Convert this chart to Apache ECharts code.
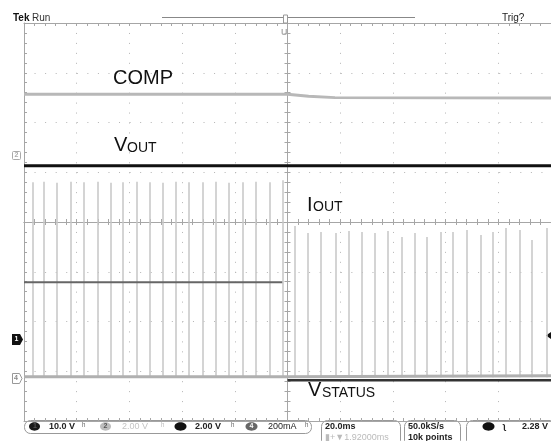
<!DOCTYPE html>
<html><head><meta charset="utf-8">
<script src="https://cdn.jsdelivr.net/npm/echarts@6/dist/echarts.min.js"></script>
<style>html,body{margin:0;padding:0;background:#fff}#c{width:551px;height:441px}</style>
</head><body><div id="c"></div>
<script>
// Horizontal unit: screen divisions (20.0 ms/div), 0 = trigger (centre).
// Vertical unit: screen divisions, 0 = centre graticule line.
const pulseLeftT   = [-4.83,-4.62,-4.38,-4.11,-3.86,-3.60,-3.35,-3.13,-2.86,-2.61,-2.37,-2.12,-1.88,-1.61,-1.36,-1.12,-0.85,-0.61,-0.34,-0.09];
const pulseLeftTop = [0.80,0.81,0.79,0.81,0.80,0.81,0.79,0.80,0.81,0.80,0.79,0.81,0.80,0.80,0.81,0.79,0.80,0.81,0.80,0.84];
const pulseRightT   = [0.13,0.38,0.64,0.91,1.16,1.40,1.65,1.91,2.16,2.41,2.65,2.90,3.14,3.41,3.66,3.90,4.15,4.41,4.64,4.91];
const pulseRightTop = [-0.08,-0.22,-0.20,-0.22,-0.18,-0.20,-0.22,-0.18,-0.30,-0.22,-0.30,-0.20,-0.20,-0.16,-0.26,-0.20,-0.12,-0.16,-0.36,-0.12];
const pulseBottom = -3.12;

const compT = [-5, 0, 0.4, 0.9, 5];
const compV = [2.57, 2.57, 2.53, 2.50, 2.49];
const voutT = [-5, 5];
const voutV = [1.13, 1.13];
const ioutT = [-5, -0.10];
const ioutV = [-1.21, -1.21];
const vstatGrayT = [-5, 0, 5];
const vstatGrayV = [-3.11, -3.11, -3.09];
const vstatDarkT = [0, 5];
const vstatDarkV = [-3.18, -3.18];

const xTicks = [-5,-4,-3,-2,-1,0,1,2,3,4,5];
const yTicks = [-4,-3,-2,-1,0,1,2,3,4];

function pairs(t, v){ return t.map((x,i)=>[x, v[i]]); }
const pulseData = pulseLeftT.map((t,i)=>({coords:[[t,pulseBottom],[t,pulseLeftTop[i]]]}))
  .concat(pulseRightT.map((t,i)=>({coords:[[t,pulseBottom],[t,pulseRightTop[i]]]})));

const GRID = '#a6a6a6';
function xAx(extra){
  return Object.assign({type:'value', min:xTicks[0], max:xTicks[xTicks.length-1], interval:1,
    axisLabel:{show:false}, splitLine:{show:false}}, extra);
}
function yAx(extra){
  return Object.assign({type:'value', min:yTicks[0], max:yTicks[yTicks.length-1], interval:1,
    axisLabel:{show:false}, splitLine:{show:false}}, extra);
}
const tick = {show:true, length:3, lineStyle:{color:GRID}};
const minor = {show:true, splitNumber:5, length:3, lineStyle:{color:GRID}};

const chart = echarts.init(document.getElementById('c'), null, {renderer:'canvas'});
const F = '"Liberation Sans", Arial, sans-serif';
function txt(x,y,s,size,opts){
  return Object.assign({type:'text', x:x, y:y, z:100, style:Object.assign({text:s, font:(opts&&opts.weight?opts.weight+' ':'')+size+'px '+F,
    fill:(opts&&opts.fill)||'#111', textAlign:(opts&&opts.align)||'left', textVerticalAlign:'middle'}, {})}, {});
}
const graphics = [
  txt(13,18,'Tek',10,{weight:'bold'}),
  txt(32,18,'Run',10,{fill:'#333'}),
  {type:'line', shape:{x1:162,y1:17.5,x2:415,y2:17.5}, style:{stroke:'#888', lineWidth:1}},
  {type:'rect', shape:{x:283.5,y:15,width:4,height:8}, style:{fill:'#fff', stroke:'#999', lineWidth:1}, z:101},
  txt(502,18,'Trig?',10,{fill:'#222'}),
  txt(281,33,'U',9,{weight:'bold', fill:'#b0b0b0'}),
  txt(113,78,'COMP',20),
  txt(114,145,'V',20),
  txt(127,148,'OUT',14),
  txt(307,205,'I',20),
  txt(313,207.5,'OUT',14),
  txt(308,390.5,'V',20),
  txt(322,393.5,'STATUS',14),
  // channel markers
  {type:'rect', shape:{x:12.5,y:151.5,width:8,height:8,r:1}, style:{fill:'#fff', stroke:'#aaa'}},
  txt(14.5,155.5,'2',7,{fill:'#aaa', weight:'bold'}),
  {type:'polygon', shape:{points:[[12,334],[20,334],[23,339.5],[20,345],[12,345]]}, style:{fill:'#111'}},
  txt(14.5,339.5,'1',7,{fill:'#fff', weight:'bold'}),
  {type:'polygon', shape:{points:[[12.5,373.5],[19.5,373.5],[22,378.5],[19.5,383.5],[12.5,383.5]]}, style:{fill:'#fff', stroke:'#999'}},
  txt(14,378.5,'4',7,{fill:'#888', weight:'bold'}),
  {type:'polygon', shape:{points:[[546,335.5],[551,332],[551,339]]}, style:{fill:'#111'}},
  // bottom status bar
  {type:'rect', shape:{x:24.5,y:420.5,width:287,height:13,r:6}, style:{fill:'none', stroke:'#999'}},
  {type:'ellipse', shape:{cx:34.5,cy:426.5,rx:5.5,ry:4.2}, style:{fill:'#1a1a1a'}},
  txt(33,426.5,'1',7,{fill:'#555', weight:'bold'}),
  txt(49,426.5,'10.0 V',9,{weight:'bold', fill:'#222'}),
  txt(82,426.5,'ʰ',9,{fill:'#666'}),
  {type:'ellipse', shape:{cx:105.5,cy:426.5,rx:5.5,ry:4.2}, style:{fill:'#bdbdbd'}},
  txt(103.5,426.5,'2',7,{fill:'#555', weight:'bold'}),
  txt(122,426.5,'2.00 V',9,{fill:'#c4c4c4'}),
  txt(161,426.5,'ʰ',9,{fill:'#bbb'}),
  {type:'ellipse', shape:{cx:180.5,cy:426.5,rx:6,ry:4.2}, style:{fill:'#111'}},
  txt(195,426.5,'2.00 V',9,{weight:'bold', fill:'#222'}),
  txt(231,426.5,'ʰ',9,{fill:'#666'}),
  {type:'ellipse', shape:{cx:251.5,cy:426.5,rx:6,ry:4.2}, style:{fill:'#666'}},
  txt(249.5,426.5,'4',7,{fill:'#fff', weight:'bold'}),
  txt(268,426.5,'200mA',9,{fill:'#222'}),
  txt(305,426.5,'ʰ',9,{fill:'#666'}),
  {type:'rect', shape:{x:321.5,y:420.5,width:79,height:26,r:6}, style:{fill:'none', stroke:'#999'}},
  txt(325,426.5,'20.0ms',9,{weight:'bold', fill:'#222'}),
  txt(325,437.5,'▮+▼1.92000ms',9,{fill:'#bbb'}),
  {type:'rect', shape:{x:404.5,y:420.5,width:56,height:26,r:6}, style:{fill:'none', stroke:'#999'}},
  txt(408,426.5,'50.0kS/s',9,{weight:'bold', fill:'#222'}),
  txt(408,437.5,'10k points',9,{weight:'bold', fill:'#222'}),
  {type:'rect', shape:{x:466.5,y:420.5,width:90,height:26,r:6}, style:{fill:'none', stroke:'#999'}},
  {type:'ellipse', shape:{cx:488.5,cy:426.5,rx:6,ry:4.2}, style:{fill:'#111'}},
  txt(503,426.5,'ʅ',9,{weight:'bold', fill:'#222'}),
  txt(522,426.5,'2.28 V',9,{weight:'bold', fill:'#222'})
];

chart.setOption({
  animation:false,
  backgroundColor:'#fff',
  grid:{left:24, top:23, width:528, height:398},
  xAxis:[
    xAx({position:'bottom', axisLine:{onZero:true, onZeroAxisIndex:0, lineStyle:{color:GRID}}, axisTick:tick, minorTick:minor,
         splitLine:{show:true, lineStyle:{color:'#b4b4b4', width:1, type:[1,8.95]}}}),
    xAx({position:'top', axisLine:{onZero:true, onZeroAxisIndex:0, lineStyle:{color:GRID}}, axisTick:tick, minorTick:minor}),
    xAx({position:'top', axisLine:{onZero:false, lineStyle:{color:GRID}}, axisTick:Object.assign({inside:true},tick), minorTick:minor}),
    xAx({position:'bottom', axisLine:{onZero:false, lineStyle:{color:GRID}}, axisTick:Object.assign({inside:true},tick), minorTick:minor})
  ],
  yAxis:[
    yAx({position:'left', axisLine:{onZero:true, onZeroAxisIndex:0, lineStyle:{color:GRID}}, axisTick:tick, minorTick:minor,
         splitLine:{show:true, lineStyle:{color:'#b4b4b4', width:1, type:[1,9.56]}}}),
    yAx({position:'right', axisLine:{onZero:true, onZeroAxisIndex:0, lineStyle:{color:GRID}}, axisTick:tick, minorTick:minor}),
    yAx({position:'left', axisLine:{onZero:false, lineStyle:{color:GRID}}, axisTick:Object.assign({inside:true},tick), minorTick:minor})
  ],
  series:[
    {type:'lines', coordinateSystem:'cartesian2d', xAxisIndex:0, yAxisIndex:0, data:pulseData, silent:true,
     lineStyle:{color:'#c6c6c6', width:1.5, opacity:1}, z:2},
    {type:'line', data:pairs(compT,compV), showSymbol:false, symbol:'none', lineStyle:{color:'#b8b8b8', width:3}, z:3},
    {type:'line', data:pairs(voutT,voutV), showSymbol:false, symbol:'none', lineStyle:{color:'#111', width:3}, z:3},
    {type:'line', data:pairs(ioutT,ioutV), showSymbol:false, symbol:'none', lineStyle:{color:'#666', width:2}, z:3},
    {type:'line', data:pairs(vstatGrayT,vstatGrayV), showSymbol:false, symbol:'none', lineStyle:{color:'#b0b0b0', width:3}, z:3},
    {type:'line', data:pairs(vstatDarkT,vstatDarkV), showSymbol:false, symbol:'none', lineStyle:{color:'#333', width:2.5}, z:4}
  ],
  graphic:graphics
});
</script></body></html>
